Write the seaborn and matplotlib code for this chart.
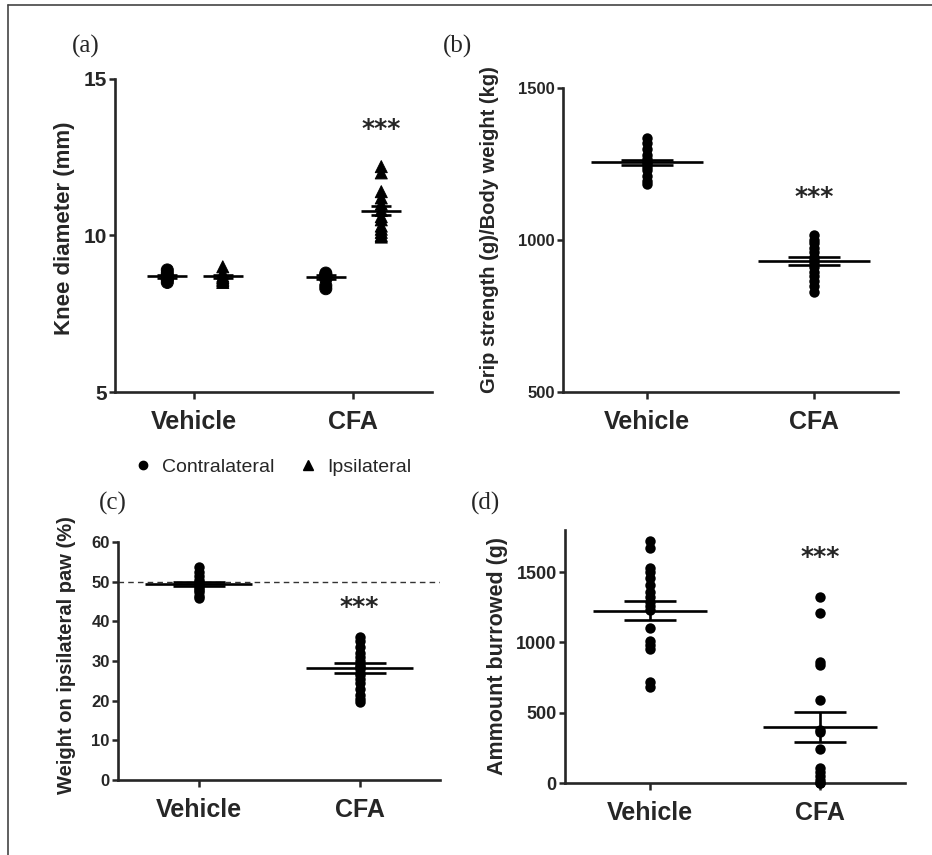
import numpy as np
import pandas as pd
import matplotlib.pyplot as plt
from matplotlib.lines import Line2D
import seaborn as sns

groups = ['Vehicle', 'CFA']

# (a) knee diameter (mm), contralateral / ipsilateral
knee_veh_contra = [8.5, 8.6, 8.6, 8.7, 8.7, 8.8, 8.9]
knee_veh_ipsi = [8.5, 8.55, 8.6, 8.65, 8.7, 8.8, 9.0]
knee_cfa_contra = [8.3, 8.4, 8.6, 8.7, 8.7, 8.75, 8.8]
knee_cfa_ipsi = [12.2, 12.0, 11.4, 11.2, 11.0, 10.8, 10.6, 10.5, 10.3, 10.2, 10.1, 10.0, 9.95]
knee_means = [8.7, 8.7, 8.67, 10.79]       # veh contra, veh ipsi, cfa contra, cfa ipsi
knee_sems = [0.05, 0.05, 0.06, 0.15]

# (b) grip strength (g)/body weight (kg)
grip_veh = [1335, 1320, 1300, 1280, 1265, 1255, 1250, 1240, 1230, 1210, 1195, 1185]
grip_cfa = [1015, 1000, 990, 975, 960, 945, 935, 925, 910, 895, 880, 865, 850, 830]
grip_means = [1255, 931]
grip_sems = [9, 13]

# (c) weight on ipsilateral paw (%)
paw_veh = [53.7, 52.5, 51.5, 50.5, 50, 49.5, 49, 48.5, 48, 47.5, 46.5, 45.8]
paw_cfa = [36, 35, 33.5, 32, 31, 30, 29, 28.5, 28, 27, 26.5, 25.5, 24.5, 23, 21.5, 20.5, 19.6]
paw_means = [49.3, 28.3]
paw_sems = [0.5, 1.2]

# (d) amount burrowed (g)
burrow_veh = [1720, 1670, 1530, 1500, 1460, 1410, 1360, 1320, 1290, 1260, 1230,
              1100, 1010, 980, 950, 720, 680]
burrow_cfa = [1320, 1210, 860, 840, 590, 380, 360, 240, 110, 80, 50, 20, 0, 0]
burrow_means = [1225, 398]
burrow_sems = [68, 107]

sns.set_style('ticks')
plt.rcParams['font.family'] = ['Liberation Sans', 'DejaVu Sans']

W, H = 932, 855
fig = plt.figure(figsize=(W / 100, H / 100), dpi=100)


def px_axes(left, right, top, bottom):
    return fig.add_axes([left / W, 1 - bottom / H, (right - left) / W, (bottom - top) / H])


def style_axis(ax, ylabel, ytick_size, label_x, label_y, label_size, label_weight='bold'):
    sns.despine(ax=ax)
    for s in ['left', 'bottom']:
        ax.spines[s].set_linewidth(1.9)
    ax.tick_params(axis='both', width=1.8, direction='out')
    ax.tick_params(axis='x', length=5, pad=8, labelsize=18)
    ax.tick_params(axis='y', length=4, pad=2, labelsize=ytick_size)
    for t in ax.get_xticklabels():
        t.set_fontweight('bold')
    for t in ax.get_yticklabels():
        t.set_fontweight('bold')
    ax.set_xlabel('')
    ax.set_ylabel(ylabel, fontsize=label_size, fontweight=label_weight, va='center')
    ax.yaxis.set_label_coords(label_x, label_y)
    ax.set_xlim(-0.5, 1.5)


def mean_sem(ax, x, mean, sem, half_w, cap):
    ax.hlines(mean, x - half_w, x + half_w, color='black', lw=1.9, zorder=4)
    ax.errorbar(x, mean, yerr=sem, fmt='none', ecolor='black', elinewidth=1.9,
                capsize=cap, capthick=1.9, zorder=4)


# ---------- (a) ----------
ax_a = px_axes(115, 432, 79, 392)
side_off = {'Contralateral': -0.17, 'Ipsilateral': 0.18}
rows = []
for g, side, vals in [(0, 'Contralateral', knee_veh_contra), (0, 'Ipsilateral', knee_veh_ipsi),
                      (1, 'Contralateral', knee_cfa_contra), (1, 'Ipsilateral', knee_cfa_ipsi)]:
    for v in vals:
        rows.append({'pos': g + side_off[side], 'side': side, 'value': v})
df_a = pd.DataFrame(rows)
sns.scatterplot(data=df_a, x='pos', y='value', style='side',
                markers={'Contralateral': 'o', 'Ipsilateral': '^'},
                color='black', edgecolor='black', s=75, legend=False, ax=ax_a)
for i, (g, side) in enumerate([(0, 'Contralateral'), (0, 'Ipsilateral'),
                               (1, 'Contralateral'), (1, 'Ipsilateral')]):
    mean_sem(ax_a, g + side_off[side], knee_means[i], knee_sems[i], 0.125, 7)
ax_a.set_ylim(5, 15)
ax_a.set_yticks([5, 10, 15])
ax_a.set_xticks([0, 1])
ax_a.set_xticklabels(groups)
style_axis(ax_a, 'Knee diameter (mm)', 15, -0.16, 0.524, 16)
ax_a.text(1 + side_off['Ipsilateral'], 13.4, '***', ha='center', va='center',
          fontsize=18, fontweight='bold', family='DejaVu Sans')

handles = [Line2D([], [], marker='o', color='black', ls='none', markersize=6),
           Line2D([], [], marker='^', color='black', ls='none', markersize=7)]
fig.legend(handles, ['Contralateral', 'Ipsilateral'], loc='center',
           bbox_to_anchor=(272 / W, 1 - 467 / H), ncol=2, frameon=False,
           fontsize=14, handletextpad=0.5, columnspacing=1.2, handlelength=1)


# ---------- (b), (c), (d) ----------
def strip_panel(ax, veh, cfa, means, sems):
    df = pd.DataFrame({'group': ['Vehicle'] * len(veh) + ['CFA'] * len(cfa),
                       'value': list(veh) + list(cfa)})
    sns.stripplot(data=df, x='group', y='value', order=groups, jitter=False,
                  color='black', size=7.5, ax=ax, zorder=3, clip_on=False)
    for i in range(2):
        mean_sem(ax, i, means[i], sems[i], 0.335, 19)


ax_b = px_axes(563, 898, 88, 392)
strip_panel(ax_b, grip_veh, grip_cfa, grip_means, grip_sems)
ax_b.set_ylim(500, 1500)
ax_b.set_yticks([500, 1000, 1500])
style_axis(ax_b, 'Grip strength (g)/Body weight (kg)', 12, -0.22, 0.533, 14.5)
ax_b.text(1, 1141, '***', ha='center', va='center', fontsize=18,
          fontweight='bold', family='DejaVu Sans')

ax_c = px_axes(118, 440, 542, 780)
strip_panel(ax_c, paw_veh, paw_cfa, paw_means, paw_sems)
ax_c.axhline(50, color='#333333', lw=1, ls=(0, (4, 3)), zorder=1)
ax_c.set_ylim(0, 60)
ax_c.set_yticks(range(0, 61, 10))
style_axis(ax_c, 'Weight on ipsilateral paw (%)', 12, -0.16, 0.525, 14.5)
ax_c.text(1, 43.6, '***', ha='center', va='center', fontsize=18,
          fontweight='bold', family='DejaVu Sans')

ax_d = px_axes(565, 905, 530, 783)
strip_panel(ax_d, burrow_veh, burrow_cfa, burrow_means, burrow_sems)
ax_d.set_ylim(0, 1800)
ax_d.set_yticks([0, 500, 1000, 1500])
style_axis(ax_d, 'Ammount burrowed (g)', 13, -0.2, 0.502, 15.5)
ax_d.text(1, 1606, '***', ha='center', va='center', fontsize=18,
          fontweight='bold', family='DejaVu Sans')

# panel letters
for lab, x, y in [('(a)', 86, 46), ('(b)', 457, 46), ('(c)', 113, 503), ('(d)', 485, 503)]:
    fig.text(x / W, 1 - y / H, lab, ha='center', va='center', fontsize=18,
             family='Liberation Serif')

# outer frame (top and left edges)
fig.add_artist(Line2D([8 / W, 1], [1 - 5 / H, 1 - 5 / H], color='#444444', lw=1.2))
fig.add_artist(Line2D([8 / W, 8 / W], [0, 1 - 5 / H], color='#444444', lw=1.2))

fig.savefig('out.png', dpi=100)
